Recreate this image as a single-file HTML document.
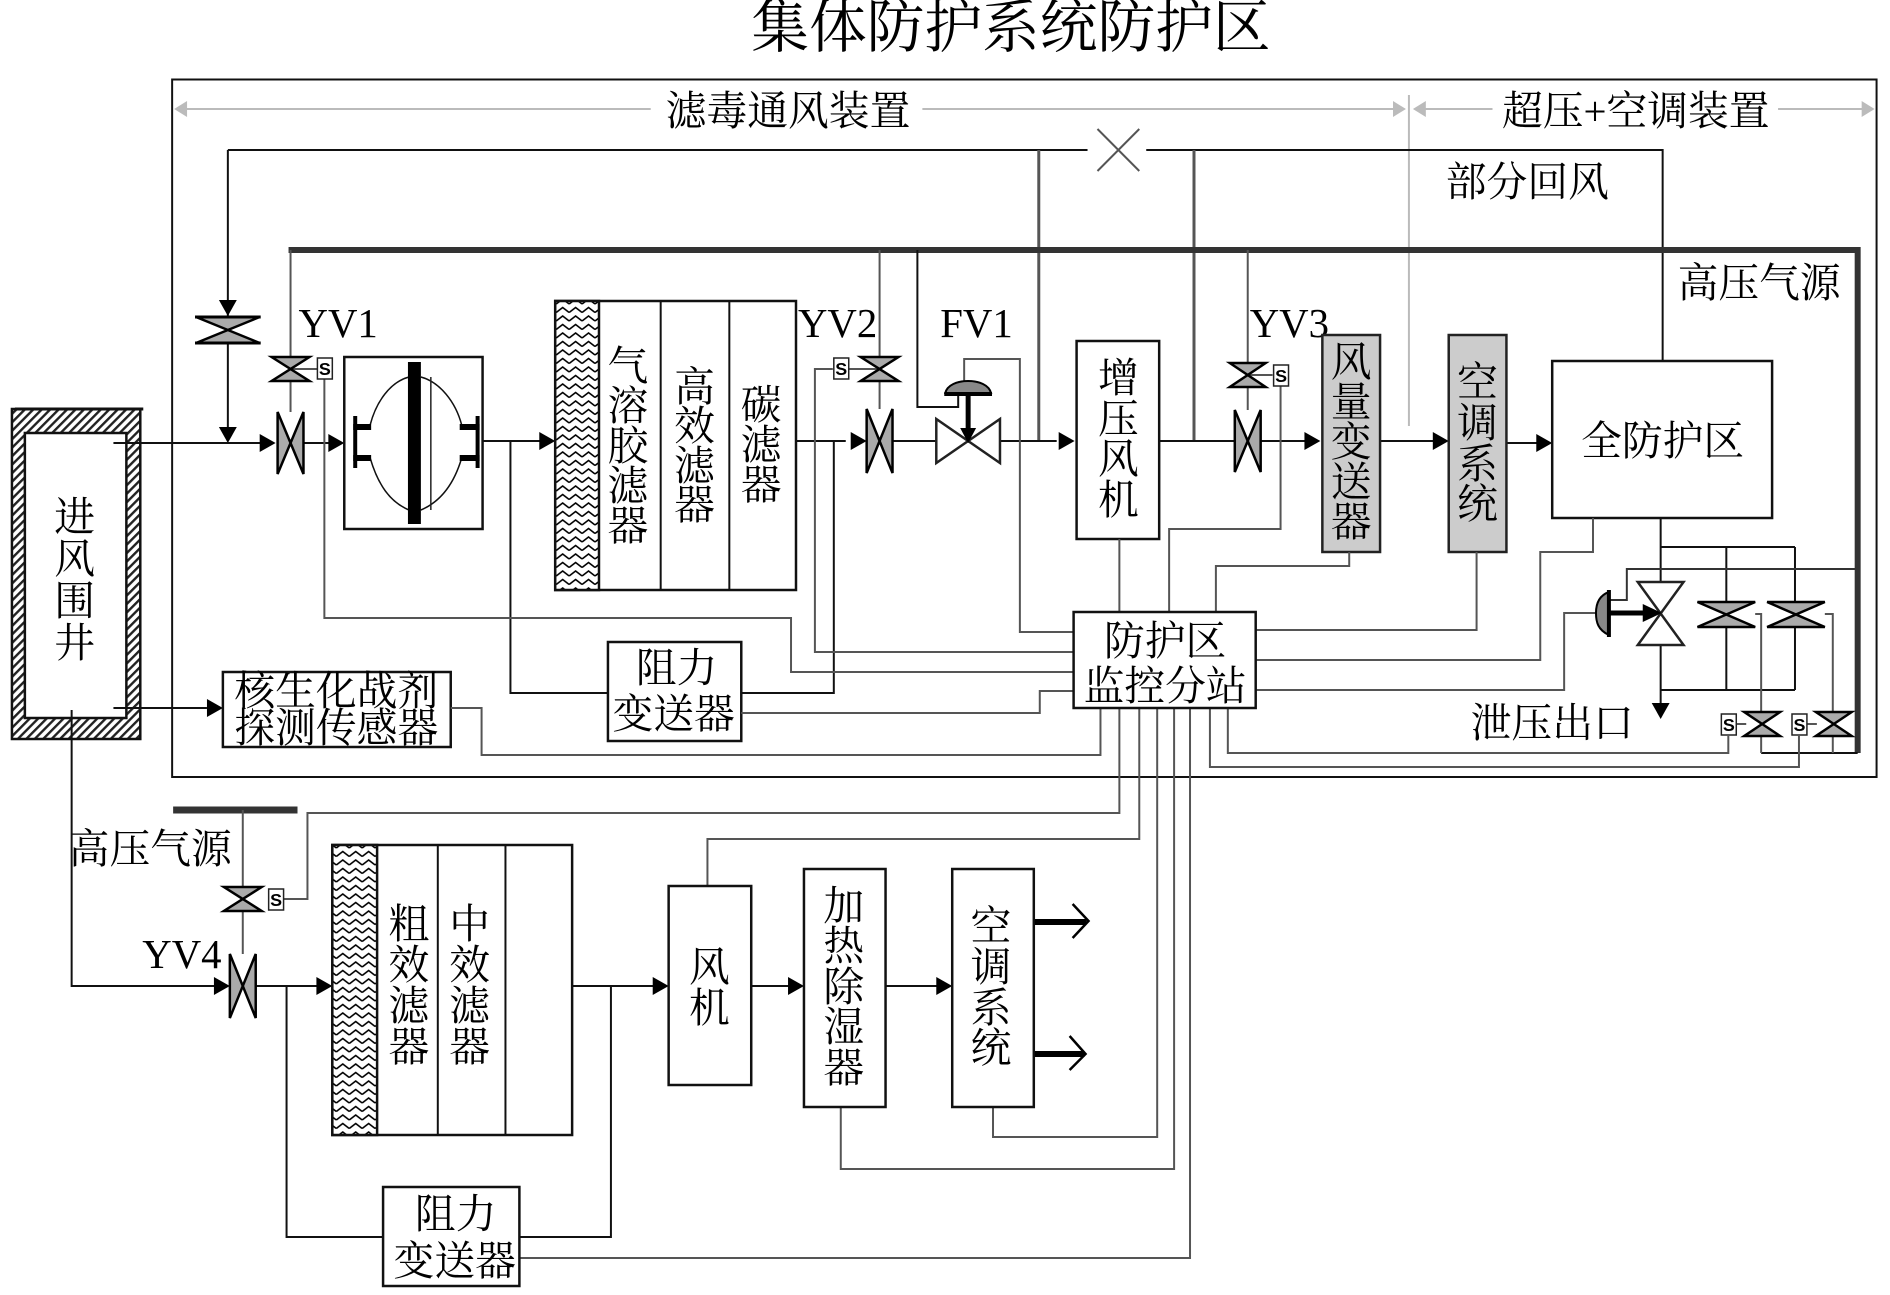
<!DOCTYPE html>
<html><head><meta charset="utf-8"><style>
html,body{margin:0;padding:0;background:#fff}
svg{display:block}
text{font-family:"Liberation Serif","Noto Serif CJK SC",serif;fill:#000;font-size:41px;text-anchor:middle}
.k{fill:none;stroke:#111;stroke-width:2}
.g{fill:none;stroke:#555;stroke-width:2}
.d{fill:none;stroke:#bbb;stroke-width:2}
.b{fill:#fff;stroke:#111;stroke-width:2.5}
.v{fill:#aaa;stroke:#000;stroke-width:2.5}
.w{fill:#fff;stroke:#222;stroke-width:2.5}
.s{fill:#fff;stroke:#222;stroke-width:1.5}
.st{font-size:18px;font-family:"Liberation Sans",sans-serif;font-weight:bold}
.l{text-anchor:start}
</style></head><body>
<svg width="1890" height="1295" viewBox="0 0 1890 1295" xmlns="http://www.w3.org/2000/svg">
<defs>
<pattern id="zz" width="13" height="8.5" patternUnits="userSpaceOnUse"><rect width="13" height="8.5" fill="#fff"/><polyline points="0,6.5 6.5,1.5 13,6.5" fill="none" stroke="#000" stroke-width="1.6"/></pattern>
<pattern id="hs" width="6" height="6" patternUnits="userSpaceOnUse" patternTransform="rotate(45)"><rect width="6" height="6" fill="#fff"/><rect width="2.4" height="6" fill="#222"/></pattern>
<polygon id="ar" points="0,0 -16,-9 -16,9" fill="#000"/>
<polygon id="ag" points="0,0 -13,-8 -13,8" fill="#bbb"/>
</defs>
<rect width="1890" height="1295" fill="#fff"/>
<g transform="scale(0.995,1)">

<text x="1016" y="47" style="font-size:58px">集体防护系统防护区</text>
<rect x="173" y="79.500" width="1713" height="697.500" fill="none" stroke="#111" stroke-width="2"/>

<!-- dimension lines -->
<path class="d" d="M180 109H654M927 109H1405M1428 109H1500M1787 109H1875M1416 95V426"/>
<use href="#ag" transform="translate(175,109) rotate(180)"/>
<use href="#ag" transform="translate(1413,109)"/>
<use href="#ag" transform="translate(1420,109) rotate(180)"/>
<use href="#ag" transform="translate(1884,109)"/>
<text x="792" y="125">滤毒通风装置</text>
<text x="1644" y="125">超压+空调装置</text>

<!-- return duct -->
<path class="k" d="M229 150H1093M1152 150H1671V361M229 150V316M229 343V430"/>
<path d="M1103 129L1145 171M1145 129L1103 171" fill="none" stroke="#555" stroke-width="2"/>
<path d="M1044 150V441M1200 150V441" fill="none" stroke="#555" stroke-width="3"/>
<use href="#ar" transform="translate(229,316) rotate(90)"/>
<use href="#ar" transform="translate(229,443) rotate(90)"/>
<polygon class="v" points="197,317 261,317 197,343 261,343"/>
<path d="M196 317H262M196 343H262" stroke="#000" stroke-width="3"/>

<!-- high pressure bus -->
<path d="M290 250H1867V753" fill="none" stroke="#333" stroke-width="6"/>
<path class="k" d="M1867 753H1770"/>

<!-- well -->
<rect x="12" y="409" width="129" height="330" fill="url(#hs)" stroke="#111" stroke-width="2.500"/>
<path d="M15 409H144" stroke="#111" stroke-width="3"/>
<rect x="25" y="433" width="102" height="285" fill="#fff" stroke="#111" stroke-width="2.500"/>
<text x="75" y="531">进</text><text x="75" y="573">风</text><text x="75" y="615">围</text><text x="75" y="657">井</text>

<!-- main line -->
<path class="k" d="M114 443H264M304 443H333M485 441H544M800 441H850M893 441H945M1004 441H1062M1165 441H1241M1267 441H1315M1387 441H1442M1514 443H1545M114 708H208"/>
<use href="#ar" transform="translate(277,443)"/>
<use href="#ar" transform="translate(346,443)"/>
<use href="#ar" transform="translate(558,441)"/>
<use href="#ar" transform="translate(871,441)"/>
<use href="#ar" transform="translate(1080,441)"/>
<use href="#ar" transform="translate(1327,441)"/>
<use href="#ar" transform="translate(1456,441)"/>
<use href="#ar" transform="translate(1560,443)"/>
<use href="#ar" transform="translate(224,708)"/>
<path class="k" d="M513 441V693H611M745 693H838V441"/>

<!-- YV1 -->
<path class="g" d="M292 250V412M292 369H319M326 379V618H795V672H1079"/>
<polygon class="v" points="273,357 311,357 273,381 311,381"/>
<rect class="s" x="319" y="358" width="15" height="21"/><text class="st" x="326.500" y="375">S</text>
<polygon class="v" points="279,412 279,474 305,412 305,474"/>
<text class="l" x="300" y="337">YV1</text>

<!-- fan unit -->
<rect class="b" x="346" y="357" width="139" height="172"/>
<path d="M372 425C378 402 392 382 411 377M372 458C380 485 392 502 411 510M423 377C442 382 458 402 464 425M423 510C442 502 456 485 464 458" fill="none" stroke="#111" stroke-width="1.500"/>
<rect x="410" y="362" width="13" height="162" fill="#000"/>
<path d="M433 377V510" stroke="#222" stroke-width="1.500"/>
<path d="M357 416V468M480 416V468" stroke="#000" stroke-width="4"/>
<path d="M355 427H373M355 458H373M462 427H482M462 458H482" stroke="#000" stroke-width="6"/>

<!-- filter upper -->
<rect x="558" y="301" width="242" height="289" fill="#fff" stroke="#111" stroke-width="2.500"/>
<rect x="558" y="301" width="44" height="289" fill="url(#zz)" stroke="#111" stroke-width="2.500"/>
<path class="k" d="M664 301V590M733 301V590"/>
<text x="631" y="380">气</text><text x="631" y="420">溶</text><text x="631" y="460">胶</text><text x="631" y="500">滤</text><text x="631" y="540">器</text>
<text x="698" y="401">高</text><text x="698" y="440">效</text><text x="698" y="480">滤</text><text x="698" y="519">器</text>
<text x="765" y="419">碳</text><text x="765" y="459">滤</text><text x="765" y="499">器</text>

<!-- YV2 -->
<path class="g" d="M884 250V409M884 369H853M837 369H819V652H1079"/>
<polygon class="v" points="865,357 903,357 865,381 903,381"/>
<rect class="s" x="838" y="358" width="15" height="21"/><text class="st" x="845.500" y="375">S</text>
<polygon class="v" points="871,409 871,473 897,409 897,473"/>
<text class="l" x="802" y="337">YV2</text>

<!-- FV1 -->
<path class="k" d="M922 250V407H963V393"/>
<path class="g" d="M969 381V359H1025V632H1079"/>
<polygon class="w" points="941,419 941,463 1005,419 1005,463"/>
<path d="M973 393V430" stroke="#000" stroke-width="5"/>
<polygon points="973,443 965,428 981,428" fill="#000"/>
<path d="M950 393C952 385 962 381 973 381C984 381 994 385 996 393Z" fill="#888" stroke="#000" stroke-width="2"/>
<path d="M949 394H997" stroke="#000" stroke-width="4"/>
<text class="l" x="945" y="337">FV1</text>

<!-- booster -->
<rect class="b" x="1082" y="341" width="83" height="198"/>
<text x="1124" y="392">增</text><text x="1124" y="433">压</text><text x="1124" y="473">风</text><text x="1124" y="514">机</text>
<path class="g" d="M1125 539V612"/>

<!-- YV3 -->
<path class="g" d="M1254 250V410M1254 375H1279M1287 386V529H1175V612"/>
<polygon class="v" points="1236,363 1272,363 1236,387 1272,387"/>
<rect class="s" x="1280" y="365" width="15" height="21"/><text class="st" x="1287.500" y="382">S</text>
<polygon class="v" points="1241,410 1241,472 1267,410 1267,472"/>
<text class="l" x="1256" y="337">YV3</text>

<!-- flow transmitter -->
<rect x="1329" y="335" width="58" height="217" fill="#ccc" stroke="#222" stroke-width="2.500"/>
<text x="1358" y="376">风</text><text x="1358" y="416">量</text><text x="1358" y="456">变</text><text x="1358" y="496">送</text><text x="1358" y="536">器</text>
<path class="g" d="M1356 552V566H1222V612"/>

<!-- AC -->
<rect x="1456" y="335" width="58" height="217" fill="#ccc" stroke="#222" stroke-width="2.500"/>
<text x="1485" y="396">空</text><text x="1485" y="437">调</text><text x="1485" y="478">系</text><text x="1485" y="518">统</text>
<path class="g" d="M1484 552V630H1262"/>

<!-- full zone -->
<rect class="b" x="1560" y="361" width="221" height="157"/>
<text x="1671" y="455">全防护区</text>
<path class="g" d="M1601 518V552H1548V660H1262M1262 690H1572V613H1604"/>

<!-- relief -->
<path class="k" d="M1669 518V582M1669 645V703M1669 547H1804M1669 690H1804M1735 547V690M1804 547V690"/>
<use href="#ar" transform="translate(1669,719) rotate(90)"/>
<path class="k" d="M1865 569H1635V600H1617" style="stroke:#333"/>
<polygon class="w" points="1646,582 1692,582 1646,645 1692,645"/>
<path d="M1617 613H1655" stroke="#000" stroke-width="5"/>
<polygon points="1670,613 1651,604 1651,622" fill="#000"/>
<path d="M1617 592C1606 596 1604 606 1604 613C1604 622 1606 630 1617 635Z" fill="#888" stroke="#000" stroke-width="2"/>
<path d="M1617 590V637" stroke="#000" stroke-width="4"/>
<polygon class="v" points="1706,602 1764,602 1706,627 1764,627"/>
<polygon class="v" points="1776,602 1834,602 1776,627 1834,627"/>
<path class="g" d="M1764 614H1770V712M1770 736V753M1834 614H1842V712M1842 736V753M1745 724H1755M1816 724H1826"/>
<polygon class="v" points="1753,712 1789,712 1753,736 1789,736"/>
<polygon class="v" points="1825,712 1861,712 1825,736 1861,736"/>
<rect class="s" x="1730" y="714" width="15" height="21"/><text class="st" x="1737.500" y="731">S</text>
<rect class="s" x="1801" y="714" width="15" height="21"/><text class="st" x="1808.500" y="731">S</text>
<path class="g" d="M1234 708V753H1737V735M1216 708V767H1808V735"/>

<text x="1535" y="196">部分回风</text>
<text x="1768" y="297">高压气源</text>
<text x="1560" y="737">泄压出口</text>

<!-- sensor -->
<rect class="b" x="224" y="672" width="229" height="75"/>
<text x="338" y="705">核生化战剂</text>
<text x="338" y="742">探测传感器</text>
<path class="g" d="M453 708H484V755H1106V708"/>

<!-- upper transmitter -->
<rect class="b" x="611" y="642" width="134" height="99"/>
<text x="680" y="682">阻力</text>
<text x="677" y="728">变送器</text>
<path class="g" d="M745 713H1045V691H1079"/>

<!-- controller -->
<path class="g" d="M1125 708V813H309V899H285M1145 708V839H711V886M1163 708V1137H998V1107M1180 708V1169H845V1107M1196 708V1258H522"/>
<rect class="b" x="1079" y="612" width="183" height="96"/>
<text x="1171" y="655">防护区</text>
<text x="1171" y="700">监控分站</text>

<!-- lower section -->
<path d="M174 810H299" stroke="#333" stroke-width="7"/>
<path class="g" d="M244 810V954"/>
<polygon class="v" points="225,887 263,887 225,911 263,911"/>
<rect class="s" x="270" y="889" width="15" height="21"/><text class="st" x="277.500" y="906">S</text>
<text x="151" y="863">高压气源</text>
<text class="l" x="143" y="968">YV4</text>
<path class="k" d="M72 710V986H216M257 986H320M288 986V1237H385M522 1237H614V986M575 986H658M755 986H794M890 986H943"/>
<use href="#ar" transform="translate(231,986)"/>
<use href="#ar" transform="translate(334,986)"/>
<use href="#ar" transform="translate(672,986)"/>
<use href="#ar" transform="translate(808,986)"/>
<use href="#ar" transform="translate(957,986)"/>
<polygon class="v" points="231,954 231,1018 257,954 257,1018"/>

<rect x="334" y="845" width="241" height="290" fill="#fff" stroke="#111" stroke-width="2.500"/>
<rect x="334" y="845" width="45" height="290" fill="url(#zz)" stroke="#111" stroke-width="2.500"/>
<path class="k" d="M440 845V1135M508 845V1135"/>
<text x="411" y="938">粗</text><text x="411" y="979">效</text><text x="411" y="1020">滤</text><text x="411" y="1061">器</text>
<text x="472" y="938">中</text><text x="472" y="979">效</text><text x="472" y="1020">滤</text><text x="472" y="1061">器</text>

<rect class="b" x="385" y="1187" width="137" height="99"/>
<text x="458" y="1228">阻力</text>
<text x="457" y="1275">变送器</text>

<rect class="b" x="672" y="886" width="83" height="199"/>
<text x="713" y="981">风</text><text x="713" y="1022">机</text>

<rect class="b" x="808" y="869" width="82" height="238"/>
<text x="848" y="920">加</text><text x="848" y="960">热</text><text x="848" y="1001">除</text><text x="848" y="1041">湿</text><text x="848" y="1082">器</text>

<rect class="b" x="957" y="869" width="82" height="238"/>
<text x="996" y="940">空</text><text x="996" y="981">调</text><text x="996" y="1022">系</text><text x="996" y="1062">统</text>

<path d="M1040 922H1092M1040 1054H1090" stroke="#000" stroke-width="6"/>
<path d="M1078 904L1094 921L1078 938M1075 1036L1091 1054L1075 1070" fill="none" stroke="#000" stroke-width="2.500"/>
</g>
</svg>
</body></html>
